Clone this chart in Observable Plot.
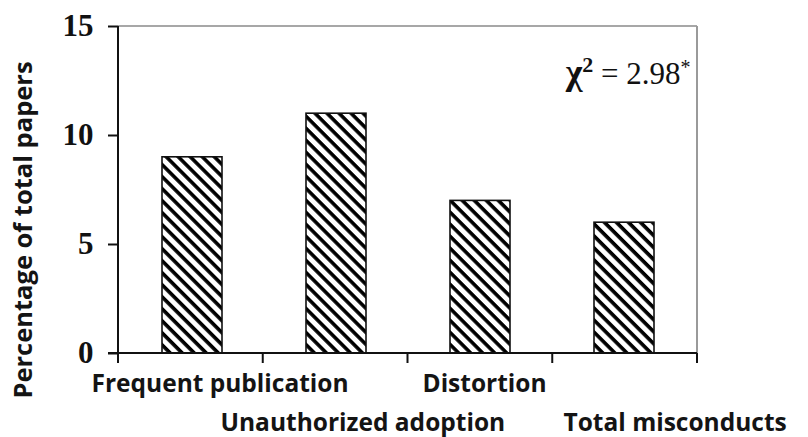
<!DOCTYPE html>
<html>
<head>
<meta charset="utf-8">
<script src="https://cdn.jsdelivr.net/npm/d3@7"></script>
<script src="https://cdn.jsdelivr.net/npm/@observablehq/plot@0.6"></script>
<style>
  html, body { margin: 0; padding: 0; background: #fff; }
  #chart svg { display: block; }
</style>
</head>
<body>
<div id="chart"></div>
<script>
// Data
const categories = ["Frequent publication", "Unauthorized adoption", "Distortion", "Total misconducts"];
const values = [9, 11, 7, 6];
const yTicks = [0, 5, 10, 15];
const statSymbol = "χ";
const statPower = "2";
const statValue = " = 2.98";
const statMark = "*";
const yLabel = "Percentage of total papers";

const data = categories.map((c, i) => ({category: c, value: values[i]}));

// label layout (row and horizontal offset from band centre)
const labelRow = [0, 1, 0, 1];
const labelDx = [-101, -116, -58, -61];

const W = 808, H = 437;
const mL = 118, mT = 26, mR = 111, mB = 84;

const labelFont = "'Open Sans', 'Noto Sans', sans-serif";
const serifFont = "'Liberation Serif', 'Times New Roman', serif";

function axisLines(index, scales, values, dims) {
  const g = d3.create("svg:g");
  const x0 = dims.marginLeft, x1 = dims.width - dims.marginRight;
  const y0 = dims.marginTop, y1 = dims.height - dims.marginBottom;
  g.append("line").attr("x1", x0).attr("x2", x1).attr("y1", y0).attr("y2", y0)
    .attr("stroke", "#8a8a8a").attr("stroke-width", 1.5);
  g.append("line").attr("x1", x1).attr("x2", x1).attr("y1", y0).attr("y2", y1)
    .attr("stroke", "#9a9a9a").attr("stroke-width", 2);
  g.append("line").attr("x1", x0).attr("x2", x0).attr("y1", y0).attr("y2", y1 + 9)
    .attr("stroke", "#111").attr("stroke-width", 2);
  g.append("line").attr("x1", x0 - 10).attr("x2", x1).attr("y1", y1).attr("y2", y1)
    .attr("stroke", "#111").attr("stroke-width", 2);
  const n = categories.length;
  const step = (x1 - x0) / n;
  for (let i = 0; i <= n; i++) {
    const x = x0 + i * step;
    g.append("line").attr("x1", x).attr("x2", x).attr("y1", y1).attr("y2", y1 + 10)
      .attr("stroke", "#111").attr("stroke-width", 2);
  }
  return g.node();
}

const chart = Plot.plot({
  width: W,
  height: H,
  marginLeft: mL,
  marginTop: mT,
  marginRight: mR,
  marginBottom: mB,
  style: {background: "#fff", overflow: "visible"},
  x: {domain: categories, paddingInner: 0.585, paddingOuter: 0.2925, axis: null},
  y: {domain: [0, 15], axis: null},
  marks: [
    Plot.barY(data, {x: "category", y: "value", fill: "url(#hatch)", stroke: "#111", strokeWidth: 1.6}),
    axisLines,
    Plot.axisY({
      ticks: yTicks, tickSize: 10, tickPadding: 15, tickFormat: d => String(d),
      fontSize: 31, fontWeight: "bold", fontFamily: serifFont,
      stroke: "#111", strokeWidth: 2, label: null, fill: "#111"
    }),
    ...categories.map((c, i) => Plot.text([c], {
      x: d => d, y: 0, text: d => d,
      dx: labelDx[i], dy: labelRow[i] === 0 ? 31 : 70,
      textAnchor: "start", lineAnchor: "middle",
      fontSize: 24.5, fontWeight: "bold", fontFamily: labelFont, fill: "#141414"
    })),
    Plot.text([statSymbol + statPower + statValue + statMark], {
      frameAnchor: "top-right", text: d => d, dx: -7, dy: 48,
      textAnchor: "end", lineAnchor: "middle",
      fontSize: 31, fontFamily: serifFont, fill: "#111",
      className: "stat-label"
    }),
    Plot.text([yLabel], {
      frameAnchor: "left", text: d => d, dx: -95, dy: 40, rotate: -90,
      textAnchor: "middle", lineAnchor: "middle",
      fontSize: 25.5, fontWeight: "bold", fontFamily: labelFont, fill: "#141414"
    })
  ]
});

const svg = d3.select(chart);
// hatch pattern
const defs = svg.insert("defs", ":first-child");
const pat = defs.append("pattern").attr("id", "hatch")
  .attr("patternUnits", "userSpaceOnUse").attr("width", 8.5).attr("height", 8.5)
  .attr("patternTransform", "rotate(45)");
pat.append("rect").attr("width", 8.5).attr("height", 8.5).attr("fill", "#fff");
pat.append("rect").attr("width", 8.5).attr("height", 3.6).attr("fill", "#000");

// style the statistic with a bold symbol and superscripts
svg.selectAll(".stat-label text").each(function() {
  const t = d3.select(this);
  t.text(null);
  t.append("tspan").attr("font-weight", "bold").attr("font-size", 36).text(statSymbol);
  t.append("tspan").attr("font-size", 22).attr("font-weight", "bold").attr("dy", -12).text(statPower);
  t.append("tspan").attr("dy", 12).text(statValue);
  t.append("tspan").attr("font-size", 20).attr("dy", -10).text(statMark);
});

document.getElementById("chart").appendChild(chart);
</script>
</body>
</html>
